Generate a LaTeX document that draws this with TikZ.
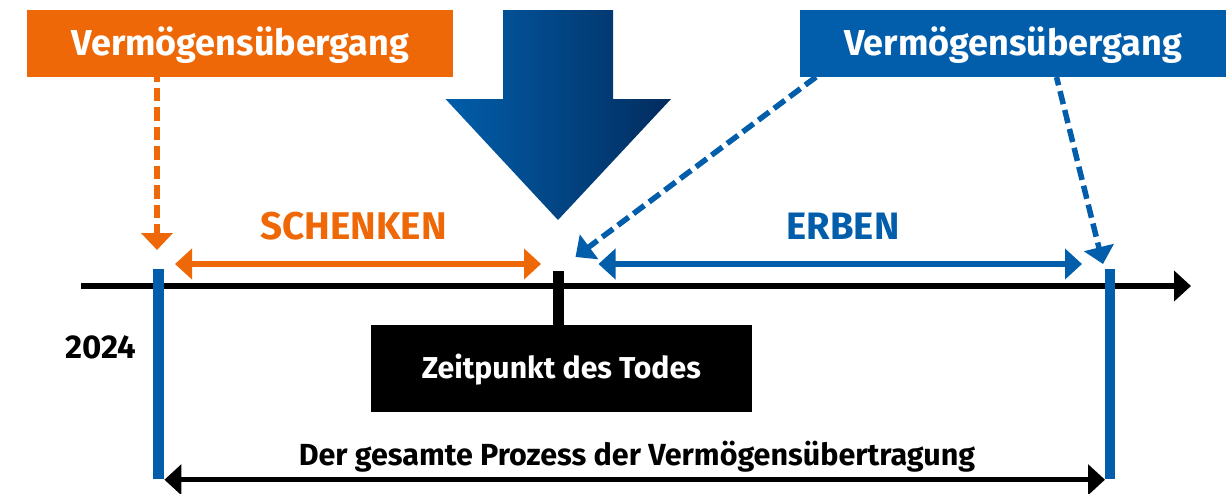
\documentclass[tikz,border=0pt]{standalone}
\usepackage{fontspec}
\setmainfont{Fira Sans}
\usetikzlibrary{arrows.meta}
\definecolor{orangeC}{HTML}{EE6807}
\definecolor{blueC}{HTML}{025EAA}
\definecolor{arrowL}{HTML}{025EAA}
\definecolor{arrowR}{HTML}{022C5E}
\newcommand{\fsz}[1]{\fontsize{#1}{#1}\selectfont\bfseries}
\tikzset{
  bigbox/.style={inner sep=0pt,outer sep=0pt,text=white,align=center},
  plain/.style={inner sep=0pt,outer sep=0pt,anchor=base},
  tipS/.style={-{Triangle[length=17pt,width=30pt]}},
  dbl/.style={{Triangle[length=17pt,width=30pt]}-{Triangle[length=17pt,width=30pt]}},
  dashS/.style={line width=5.5pt,dash pattern=on 13.5pt off 6pt},
  bar/.style={line width=10.8pt,blueC},
}
\begin{document}
\begin{tikzpicture}[x=1pt,y=-1pt]
\useasboundingbox (0,0) rectangle (1231,493);
% central arrow
\shade[left color=arrowL,right color=arrowR]
  (503,10) -- (613,10) -- (613,99) -- (671,99) -- (558,220) -- (445.5,99) -- (503,99) -- cycle;
% boxes
\node[bigbox,fill=orangeC,minimum width=426pt,text height=45pt,text depth=22pt,font=\fsz{36}] (boxL) at (240.4,55) [anchor=base] {Vermögensübergang};
\node[bigbox,fill=blueC,minimum width=426pt,text height=45pt,text depth=22pt,font=\fsz{36}] (boxR) at (1013,55) [anchor=base] {Vermögensübergang};
\node[bigbox,fill=black,minimum width=381.4pt,text height=53pt,text depth=34pt,font=\fsz{30.2}] (boxT) at (561.3,378) [anchor=base] {Zeitpunkt des Todes};
% labels
\node[plain,text=orangeC,font=\fsz{38.6}] (schenken) at (353.5,239) {SCHENKEN};
\node[plain,text=blueC,font=\fsz{38.2}] (erben) at (843,239) {ERBEN};
\node[plain,text=black,font=\fsz{33}] (year) at (101,358.5) {2024};
\node[plain,text=black,font=\fsz{30.5}] (total) at (637,465) {Der gesamte Prozess der Vermögensübertragung};
% coordinates
\coordinate (axisA) at (81,286);
\coordinate (axisB) at (1191,286);
\coordinate (barLt) at (158.8,269);
\coordinate (barLb) at (158.8,479);
\coordinate (barRt) at (1110,269);
\coordinate (barRb) at (1110,479);
\coordinate (tickT) at (558.3,271);
\coordinate (oS) at (157,77);
\coordinate (oE) at (157,250);
\coordinate (b1S) at (816,77);
\coordinate (b1E) at (575.5,257);
\coordinate (b2S) at (1056.5,77);
\coordinate (b2E) at (1103,264);
\coordinate (sA) at (175,264);
\coordinate (sB) at (541,264);
\coordinate (eA) at (598.5,264);
\coordinate (eB) at (1082,264);
\coordinate (tA) at (164.4,479.7);
\coordinate (tB) at (1105,479.7);
% axis
\draw[line width=5.4pt,black,tipS] (axisA) -- (axisB);
\draw[line width=10.5pt,black] (tickT) -- (tickT |- boxT.north);
\draw[bar] (barLt) -- (barLb);
\draw[bar] (barRt) -- (barRb);
% double arrows
\draw[line width=5.4pt,orangeC,dbl] (sA) -- (sB);
\draw[line width=5.4pt,blueC,dbl] (eA) -- (eB);
\draw[line width=5.4pt,black,dbl] (tA) -- (tB);
% dashed arrows
\draw[line width=5.5pt,dash pattern=on 13.5pt off 6pt,dash phase=9pt,orangeC,-{Triangle[length=17pt,width=31pt]}] (oS) -- (oE);
\draw[dashS,blueC,-{Triangle[length=17pt,width=30pt]}] (b1S) -- (b1E);
\draw[line width=5.5pt,dash pattern=on 13.5pt off 6pt,dash phase=5pt,blueC,-{Triangle[length=17pt,width=30pt]}] (b2S) -- (b2E);
\end{tikzpicture}
\end{document}
